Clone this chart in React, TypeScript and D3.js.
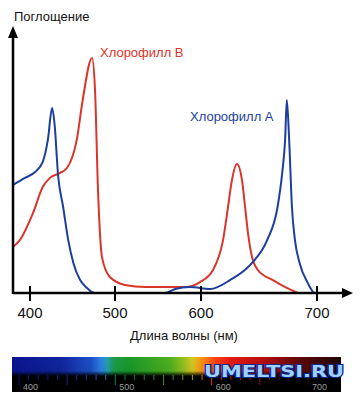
import React from "react";
import * as d3 from "d3";

// wavelength (nm) vs relative absorbance (%)
const chlA: [number, number][] = [
  [380, 42.7], [394, 45.5], [406, 47.8], [415, 51.8], [421, 60.5], [426, 73.1],
  [429, 66.4], [433, 46.6], [439, 34.0], [445, 20.9], [451, 11.9], [459, 5.1],
  [467, 2.0], [476, 0], [558, 0], [570, 1.6], [587, 2.4], [608, 1.6], [625, 5.1],
  [644, 11.9], [657, 20.9], [666, 34.0], [670, 47.4], [672.5, 60.5], [674, 76.3],
  [676, 60.5], [678.4, 34.0], [681, 20.9], [685, 11.9], [692, 4.0], [698, 0], [700, 0]
];

const chlB: [number, number][] = [
  [380, 18.2], [388, 20.9], [403.5, 31.6], [415, 41.9], [423.5, 45.5], [435, 47.4],
  [443.5, 49.4], [455, 60.5], [462, 76.3], [473, 92.9], [476.5, 80.2], [480, 40.7],
  [484.7, 14.2], [494, 6.3], [511.6, 3.2], [534.9, 2.4], [560.5, 2.4], [583.7, 2.4],
  [598.8, 4.3], [610.3, 9.1], [619, 20.9], [623.3, 34.0], [626.7, 44.7], [631, 51.0],
  [635.3, 44.7], [638, 34.0], [640.5, 23.7], [644, 14.2], [649, 9.1], [662, 5.1],
  [674, 2.0], [683.6, 0]
];

const xTicks = [400, 500, 600, 700];
const spectrumTicks = [400, 500, 600, 700];

const spectrumStops: [number, string][] = [
  [0, "#0a1490"], [0.15, "#10269e"], [0.24, "#1c50c8"], [0.27, "#2c80e4"],
  [0.29, "#24a0b0"], [0.31, "#1c9c48"], [0.36, "#1a9a28"], [0.48, "#50b020"],
  [0.52, "#90c020"], [0.55, "#d8c820"], [0.58, "#ff8a10"], [0.62, "#f84010"],
  [0.66, "#e81c10"], [0.76, "#b80e0e"], [0.88, "#5a0808"], [1, "#1c0404"]
];

const RED = "#d9352a";
const BLUE = "#1c3f9e";
const FONT = "'Liberation Sans', Arial, sans-serif";

export default function App() {
  // the original axis is not evenly spaced
  const x = d3.scaleLinear().domain([400, 500, 600, 700]).range([30, 115, 201, 317]);
  const y = d3.scaleLinear().domain([0, 100]).range([293, 40]);
  const line = d3
    .line<[number, number]>()
    .x(d => x(d[0]))
    .y(d => y(d[1]))
    .curve(d3.curveMonotoneX);

  const sx = d3.scaleLinear().domain([400, 700]).range([23, 312]);
  const minorTicks = d3.range(400, 730, 10);

  const x0 = 13;
  const yAxis = 293;

  return (
    <svg width={362} height={400} style={{ position: "absolute", left: 0, top: 0, background: "#fff" }}>
      <defs>
        <linearGradient id="spec" gradientUnits="userSpaceOnUse" x1={12} x2={341} y1={0} y2={0}>
          {spectrumStops.map(([o, c]) => (
            <stop key={o} offset={o} stopColor={c} />
          ))}
        </linearGradient>
        <linearGradient id="fade" x1="0" x2="0" y1="0" y2="1">
          <stop offset={0} stopColor="#000" stopOpacity={0} />
          <stop offset={0.4} stopColor="#000" stopOpacity={0.05} />
          <stop offset={0.55} stopColor="#000" stopOpacity={1} />
          <stop offset={1} stopColor="#000" stopOpacity={1} />
        </linearGradient>
      </defs>

      <text x={14} y={21} fontFamily={FONT} fontSize={13} fill="#111">Поглощение</text>

      <path d={line(chlB) || ""} fill="none" stroke={RED} strokeWidth={2} />
      <path d={line(chlA) || ""} fill="none" stroke={BLUE} strokeWidth={2} />

      {/* axes */}
      <line x1={x0} x2={x0} y1={yAxis + 1} y2={36} stroke="#000" strokeWidth={2.5} />
      <path d={`M${x0 - 5},38 L${x0},26 L${x0 + 5},38 Z`} fill="#000" />
      <line x1={x0} x2={344} y1={yAxis} y2={yAxis} stroke="#000" strokeWidth={2.5} />
      <path d={`M342,${yAxis - 5} L353,${yAxis} L342,${yAxis + 5} Z`} fill="#000" />
      {xTicks.map(t => (
        <g key={t}>
          <line x1={x(t)} x2={x(t)} y1={yAxis - 7} y2={yAxis + 8} stroke="#000" strokeWidth={2} />
          <text x={x(t)} y={318} textAnchor="middle" fontFamily={FONT} fontSize={15} fill="#111">{t}</text>
        </g>
      ))}
      <text x={184} y={340} textAnchor="middle" fontFamily={FONT} fontSize={13} fill="#111">Длина волны (нм)</text>

      <text x={100} y={57} fontFamily={FONT} fontSize={13} fill={RED}>Хлорофилл В</text>
      <text x={190} y={121} fontFamily={FONT} fontSize={13} fill={BLUE}>Хлорофилл А</text>

      {/* spectrum strip */}
      <rect x={12} y={357} width={329} height={35} fill="url(#spec)" />
      <rect x={12} y={357} width={329} height={35} fill="url(#fade)" />
      {minorTicks.map(t => (
        <line key={t} x1={sx(t) - 4} x2={sx(t) - 4} y1={375} y2={t % 50 === 0 ? 385 : 380}
          stroke="url(#spec)" strokeOpacity={0.8} strokeWidth={1} />
      ))}
      {spectrumTicks.map(t => (
        <text key={t} x={sx(t)} y={390} fontFamily={FONT} fontSize={9} fill="#9a9a9a">{t}</text>
      ))}
      <text x={204} y={377} textLength={140} lengthAdjust="spacingAndGlyphs" fontFamily="'DejaVu Sans', sans-serif"
        fontSize={15} fontWeight="bold" fill="#9fd0ff" stroke="#0c2a90" strokeWidth={2}
        paintOrder="stroke">UMELTSI.RU</text>
    </svg>
  );
}
